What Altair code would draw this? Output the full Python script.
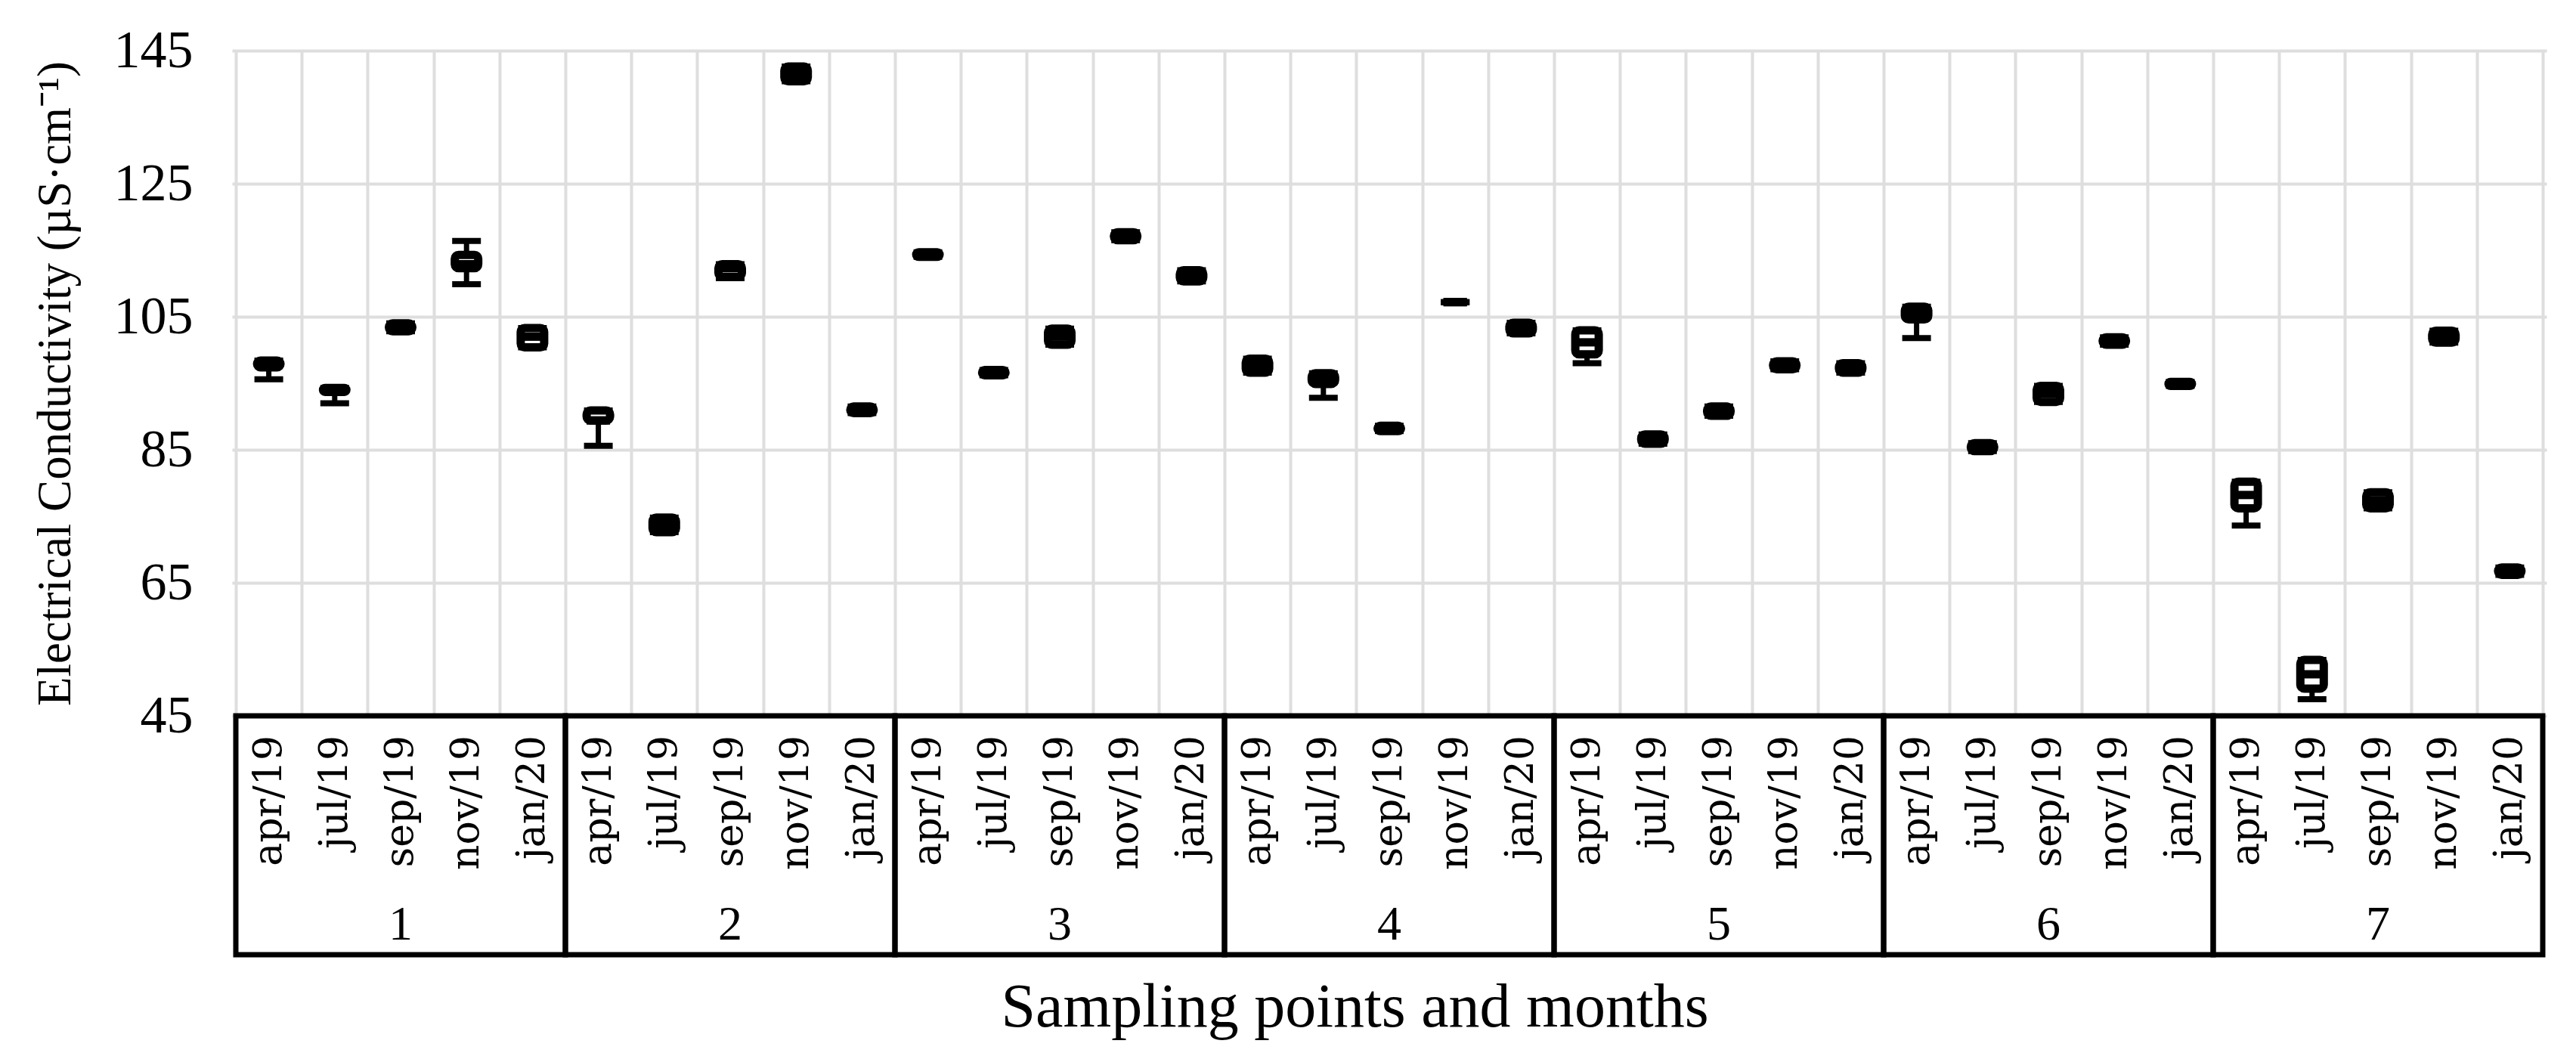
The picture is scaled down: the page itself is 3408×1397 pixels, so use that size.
import altair as alt
import pandas as pd

# ---- data ----
points = ["1", "2", "3", "4", "5", "6", "7"]
months = ["apr/19", "jul/19", "sep/19", "nov/19", "jan/20"]
y_ticks = [45, 65, 85, 105, 125, 145]

# order: point 1 (apr, jul, sep, nov, jan), point 2 (...), ... point 7
ec_min = [95.6, 92.0, 102.8, 109.9, 100.4,
          85.6, 72.6, 110.8, 140.4, 90.5,
          114.0, 96.2, 100.8, 116.5, 110.3,
          96.6, 92.8, 87.8, 107.2, 102.5,
          98.0, 85.9, 90.1, 97.1, 96.6,
          101.8, 84.8, 92.2, 100.8, 94.6,
          73.6, 47.5, 76.2, 101.1, 66.2]
ec_q1 = [97.4, 93.7, 102.8, 112.3, 100.4,
         89.4, 72.6, 111.0, 140.4, 90.5,
         114.0, 96.2, 100.8, 116.5, 110.3,
         96.6, 94.9, 87.8, 107.2, 102.5,
         99.35, 85.9, 90.1, 97.1, 96.6,
         104.6, 84.8, 92.2, 100.8, 94.6,
         76.2, 49.1, 76.2, 101.1, 66.2]
ec_med = [97.9, 94.0, 103.4, 112.9, 102.0,
          89.4, 73.7, 112.3, 141.5, 91.0,
          114.35, 96.6, 102.0, 117.1, 111.15,
          97.65, 95.7, 88.2, 107.2, 103.3,
          101.15, 86.6, 90.8, 97.7, 97.3,
          105.55, 85.4, 93.4, 101.35, 94.9,
          78.2, 51.25, 77.4, 102.0, 66.75]
ec_q3 = [98.4, 94.3, 104.0, 114.3, 103.3,
         90.9, 74.8, 112.9, 142.6, 91.5,
         114.7, 97.0, 103.2, 117.7, 112.0,
         98.7, 96.5, 88.6, 107.2, 104.1,
         102.95, 87.3, 91.5, 98.3, 98.0,
         106.5, 86.0, 94.6, 101.9, 95.2,
         80.2, 53.4, 78.6, 102.9, 67.3]
ec_max = [98.4, 94.3, 104.0, 116.4, 103.3,
          90.9, 74.8, 112.9, 142.6, 91.5,
          114.7, 97.0, 103.2, 117.7, 112.0,
          98.7, 96.5, 88.6, 107.2, 104.1,
          102.95, 87.3, 91.5, 98.3, 98.0,
          106.5, 86.0, 94.6, 101.9, 95.2,
          80.2, 53.4, 78.6, 102.9, 67.3]

# ---- tables built from the arrays ----
rows = []
for i, p in enumerate(points):
    for j, m in enumerate(months):
        k = i * len(months) + j
        rows.append(dict(point=p, month=m, pos=k + 0.5,
                         lo=ec_min[k], q1=ec_q1[k], med=ec_med[k],
                         q3=ec_q3[k], hi=ec_max[k]))
df = pd.DataFrame(rows)

n_m = len(months)
groups = pd.DataFrame({
    "point": points,
    "start": [i * n_m for i in range(len(points))],
    "end": [(i + 1) * n_m for i in range(len(points))],
    "mid": [i * n_m + n_m / 2 for i in range(len(points))],
})
n_cat = len(points) * n_m

# ---- styling / layout ----
SERIF = "Liberation Serif"
W, H = 3062, 880
TABLE_H = 316
GRID = "#dedede"

xscale = alt.Scale(domain=[0, n_cat], nice=False, zero=False)
yscale = alt.Scale(domain=[45, 145], nice=False, zero=False)

xaxis = alt.Axis(values=list(range(n_cat + 1)), grid=True, gridColor=GRID, gridWidth=4,
                 labels=False, ticks=False, domain=False,
                 title="Sampling points and months", titleFont=SERIF, titleFontSize=82,
                 titleFontWeight="normal", titleColor="black", titlePadding=410,
                 titleBaseline="alphabetic", titleX=1485)
yaxis = alt.Axis(values=y_ticks, grid=True, gridColor=GRID, gridWidth=4,
                 ticks=False, domain=False,
                 labelFont=SERIF, labelFontSize=70, labelColor="black", labelPadding=52,
                 title="Electrical Conductivity (µS·cm⁻¹)", titleFont=SERIF, titleFontSize=63,
                 titleFontWeight="normal", titleColor="black", titlePadding=45)

X = lambda f: alt.X(f, scale=xscale, axis=xaxis)
Y = lambda f: alt.Y(f, scale=yscale, axis=yaxis)

base = alt.Chart(df)

table = alt.Chart(groups).mark_rect(fill="white", fillOpacity=0, stroke="black", strokeWidth=7).encode(
    x=X("start:Q"), x2="end:Q", y=alt.value(H), y2=alt.value(H + TABLE_H))

whisker = base.mark_rule(color="black", strokeWidth=7).encode(
    x=X("pos:Q"), y=Y("lo:Q"), y2="hi:Q")
cap_lo = base.mark_tick(orient="horizontal", size=38, thickness=8, color="black", opacity=1).encode(
    x=X("pos:Q"), y=Y("lo:Q"))
cap_hi = base.mark_tick(orient="horizontal", size=38, thickness=8, color="black", opacity=1).encode(
    x=X("pos:Q"), y=Y("hi:Q"))
box = base.mark_bar(width=31, fill="white", stroke="black", strokeWidth=11, cornerRadius=5).encode(
    x=X("pos:Q"), y=Y("q1:Q"), y2="q3:Q")
median = base.mark_tick(orient="horizontal", size=31, thickness=11, color="black", opacity=1).encode(
    x=X("pos:Q"), y=Y("med:Q"))

month_txt = base.mark_text(angle=270, align="right", baseline="middle", font="DejaVu Serif",
                           fontSize=52, color="black").encode(
    x=X("pos:Q"), y=alt.value(H + 26), text="month:N")
point_txt = alt.Chart(groups).mark_text(align="center", baseline="alphabetic", font=SERIF,
                                        fontSize=64, color="black").encode(
    x=X("mid:Q"), y=alt.value(H + 296), text="point:N")

chart = alt.layer(table, whisker, cap_lo, cap_hi, box, median, month_txt, point_txt).properties(
    width=W, height=H,
    padding={"left": 34, "top": 24, "right": 10, "bottom": 5},
    background="white",
).configure_view(stroke=None)

chart.save("out.html", embed_options={"renderer": "svg", "actions": False})
